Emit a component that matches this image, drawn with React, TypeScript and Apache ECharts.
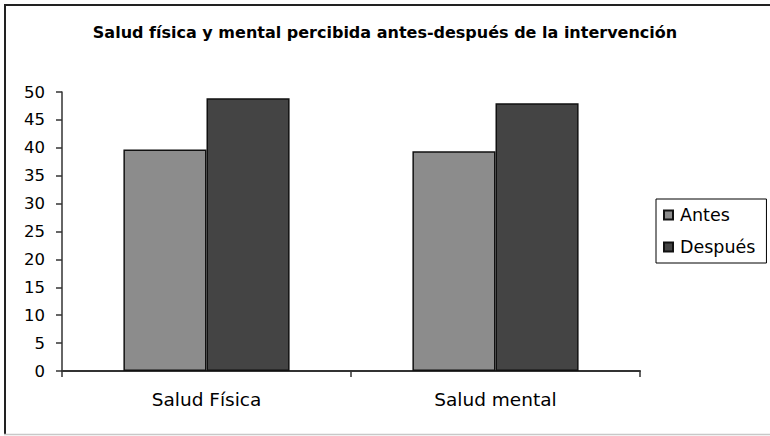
import React, { useEffect, useRef } from "react";
import * as echarts from "echarts";

const categories = ["Salud Física", "Salud mental"];
const antes = [39.7, 39.4];
const despues = [48.9, 48.0];
const seriesNames = ["Antes", "Después"];
const titleText = "Salud física y mental percibida antes-después de la intervención";

export default function App() {
  const ref = useRef<HTMLDivElement>(null);
  useEffect(() => {
    if (!ref.current) return;
    const chart = echarts.init(ref.current, null, { renderer: "svg" });
    const font = "'DejaVu Sans', 'Liberation Sans', Arial, sans-serif";
    chart.setOption({
      animation: false,
      backgroundColor: "#ffffff",
      textStyle: { fontFamily: font },
      title: {
        text: titleText,
        left: "center",
        top: 19,
        textStyle: { fontFamily: font, fontSize: 16, fontWeight: "bold", color: "#000" },
      },
      graphic: [
        { type: "line", shape: { x1: 4, y1: 5, x2: 770, y2: 5 }, style: { stroke: "#222", lineWidth: 2 } },
        { type: "line", shape: { x1: 5, y1: 4, x2: 5, y2: 435 }, style: { stroke: "#222", lineWidth: 2 } },
        { type: "line", shape: { x1: 4, y1: 434.5, x2: 770, y2: 434.5 }, style: { stroke: "#c8c8c8", lineWidth: 1.5 } },
      ],
      legend: {
        orient: "vertical",
        left: 656,
        top: 199,
        data: seriesNames,
        itemWidth: 9,
        itemHeight: 9,
        itemGap: 14,
        padding: [7, 11, 7, 7],
        borderColor: "#000",
        borderWidth: 1,
        textStyle: { fontFamily: font, fontSize: 17.5, color: "#000", padding: [0, 0, 0, 2] },
        icon: "rect",
      },
      grid: { left: 62, top: 92, right: 130, bottom: 65, containLabel: false },
      xAxis: {
        type: "category",
        data: categories,
        axisLine: { lineStyle: { color: "#333", width: 2 } },
        axisTick: { show: true, length: 6, lineStyle: { color: "#333", width: 1.5 } },
        axisLabel: { fontFamily: font, fontSize: 18.5, color: "#000", margin: 19 },
        splitLine: { show: false },
      },
      yAxis: {
        type: "value",
        min: 0,
        max: 50,
        interval: 5,
        axisLine: { show: true, lineStyle: { color: "#333", width: 1.5 } },
        axisTick: { show: true, length: 6, lineStyle: { color: "#333", width: 1.5 } },
        axisLabel: { fontFamily: font, fontSize: 16.5, color: "#000", margin: 17 },
        splitLine: { show: false },
      },
      series: [
        {
          name: seriesNames[0],
          type: "bar",
          data: antes,
          barGap: "0%",
          barCategoryGap: "42.5%",
          itemStyle: { color: "#8c8c8c", borderColor: "#111", borderWidth: 1.5 },
        },
        {
          name: seriesNames[1],
          type: "bar",
          data: despues,
          itemStyle: { color: "#444444", borderColor: "#111", borderWidth: 1.5 },
        },
      ],
    });
    return () => chart.dispose();
  }, []);
  return (
    <div
      ref={ref}
      style={{ position: "fixed", left: 0, top: 0, width: 770, height: 436, background: "#fff" }}
    />
  );
}
